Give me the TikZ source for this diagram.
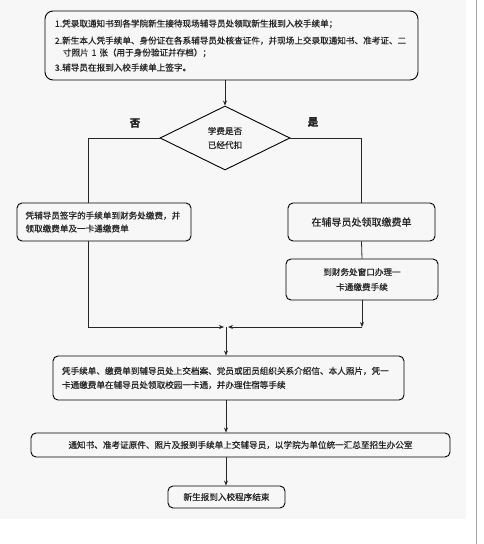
\documentclass[tikz,border=0pt]{standalone}
\usepackage{fontspec}
\newfontfamily\cjk[FakeBold=0.6]{Noto Sans CJK SC}
\usetikzlibrary{shapes.geometric,arrows.meta,calc}
\begin{document}
\begin{tikzpicture}[x=1pt,y=-1pt,
  box/.style={draw, line width=0.9pt, rounded corners=5pt, inner sep=0pt, text=black!85,
    font=\cjk\fontsize{8.6}{13}\selectfont},
  conn/.style={line width=0.8pt, black!85},
  arr/.style={conn, -{Stealth[length=5pt,width=4pt]}},
  lbl/.style={font=\cjk\bfseries\fontsize{10.5}{12}\selectfont, text=black!85}]
\useasboundingbox (0,0) rectangle (483,544);
\fill[black!3] (0,0) rectangle (466,519);
\draw[black!35, line width=0.8pt] (476,0) -- (476,544);

\node[box, rounded corners=8pt, minimum width=373pt, minimum height=69pt,
  text width=353pt, align=left, font=\cjk\fontsize{8.6}{12}\selectfont] (b1) at (231.5,45.5)
  {1.凭录取通知书到各学院新生接待现场辅导员处领取新生报到入校手续单；\\[5pt]
   2.新生本人凭手续单、身份证在各系辅导员处核查证件，并现场上交录取通知书、准考证、二\\
   \hspace*{8pt}寸照片 1 张（用于身份验证并存档）；\\[3pt]
   3.辅导员在报到入校手续单上签字。};

\node[draw, diamond, line width=0.9pt, minimum width=130pt, minimum height=64pt,
  inner sep=0pt, align=center, text=black!85,
  font=\cjk\fontsize{8.6}{14}\selectfont] (dia) at (225,138) {学费是否\\已经代扣};

\node[lbl] (no) at (135,123) {否};
\node[lbl] (yes) at (313,122) {是};

\node[box, minimum width=174pt, minimum height=38pt, text width=157pt, align=left]
  (lbox) at (104,222) {凭辅导员签字的手续单到财务处缴费，并\\领取缴费单及一卡通缴费单};

\node[box, minimum width=147pt, minimum height=38pt, align=center,
  font=\cjk\fontsize{10}{12}\selectfont] (rb1) at (361.5,222) {在辅导员处领取缴费单};

\node[box, minimum width=152pt, minimum height=41pt, align=center,
  font=\cjk\fontsize{8.6}{15}\selectfont] (rb2) at (362,279.5) {到财务处窗口办理一\\卡通缴费手续};

\node[box, minimum width=351pt, minimum height=44pt, text width=333pt, align=left,
  font=\cjk\fontsize{8.6}{14}\selectfont] (b4) at (228.5,378)
  {凭手续单、缴费单到辅导员处上交档案、党员或团员组织关系介绍信、本人照片，凭一\\卡通缴费单在辅导员处领取校园一卡通，并办理住宿等手续};

\node[box, minimum width=419pt, minimum height=24pt, align=center] (b5) at (240.5,445)
  {通知书、准考证原件、照片及报到手续单上交辅导员，以学院为单位统一汇总至招生办公室};

\node[box, minimum width=117pt, minimum height=22pt, align=center] (b6) at (226.5,497)
  {新生报到入校程序结束};

\coordinate (lx) at (88,0);
\coordinate (jn) at (226,327);
\coordinate (rj) at (362,327);

\draw[arr] (b1.south -| dia.north) -- (dia.north);
\draw[conn] (dia.west) -| (lbox.north -| lx);
\draw[conn] (dia.east) -| (rb1.north);
\draw[conn] (rb1.south) -- (rb2.north);
\draw[arr, shorten >=2pt] (lbox.south -| lx) |- (jn);
\draw[arr] (rb2.south) -- (rj);
\draw[arr, shorten >=2pt] (rj) -- (jn);
\draw[arr] (jn) -- (b4.north -| jn);
\draw[arr] (b4.south -| jn) -- (b5.north -| jn);
\draw[arr] (b5.south -| jn) -- (b6.north -| jn);
\end{tikzpicture}
\end{document}
